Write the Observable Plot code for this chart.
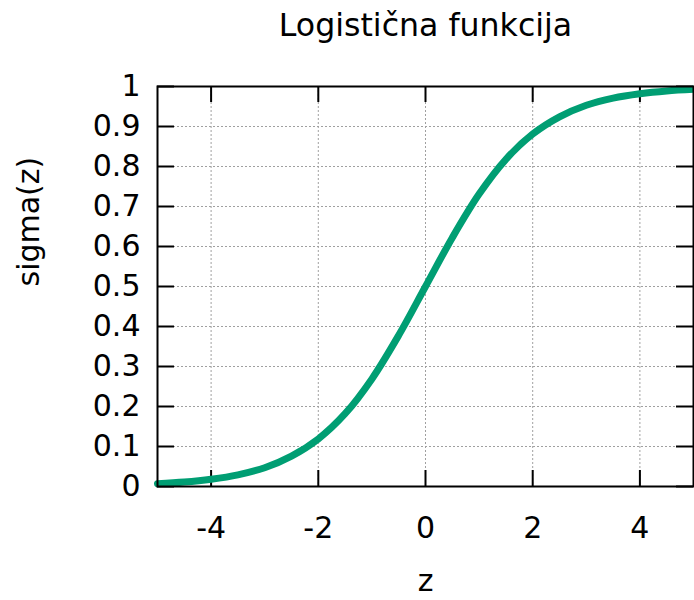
<!DOCTYPE html>
<html>
<head>
<meta charset="utf-8">
<script src="https://cdn.jsdelivr.net/npm/d3@7"></script>
<script src="https://cdn.jsdelivr.net/npm/@observablehq/plot@0.6"></script>
<style>
  html, body { margin: 0; padding: 0; background: #fff; }
  svg { display: block; }
</style>
</head>
<body>
<div id="chart"></div>
<script>
// Data
const zValues = [-5, -4.5, -4, -3.5, -3, -2.5, -2, -1.5, -1, -0.5, 0, 0.5, 1, 1.5, 2, 2.5, 3, 3.5, 4, 4.5, 5];
const sigmaValues = [0.007, 0.011, 0.018, 0.029, 0.047, 0.076, 0.119, 0.182, 0.269, 0.378, 0.5, 0.622, 0.731, 0.818, 0.881, 0.924, 0.953, 0.971, 0.982, 0.989, 0.993];
const xTicks = [-4, -2, 0, 2, 4];
const yTicks = [0, 0.1, 0.2, 0.3, 0.4, 0.5, 0.6, 0.7, 0.8, 0.9, 1];
const titleText = "Logistična funkcija";
const xLabel = "z";
const yLabel = "sigma(z)";

const data = zValues.map((z, i) => ({z, s: sigmaValues[i]}));
const font = "DejaVu Sans";
const gridColor = "#a0a0a0";

const plot = Plot.plot({
  width: 694,
  height: 600,
  marginLeft: 157,
  marginRight: 1,
  marginTop: 86,
  marginBottom: 114,
  style: {fontFamily: font, fontSize: "30px", color: "#000", background: "#fff", overflow: "visible"},
  x: {domain: [-5, 5]},
  y: {domain: [0, 1]},
  marks: [
    // grid
    Plot.ruleX(xTicks, {x: d => d, stroke: gridColor, strokeWidth: 1, strokeDasharray: "2,2"}),
    Plot.ruleY(yTicks.slice(1, -1), {y: d => d, stroke: gridColor, strokeWidth: 1, strokeDasharray: "2,2"}),
    // inward ticks (bottom/top)
    Plot.ruleX(xTicks, {x: d => d, insetTop: 384, stroke: "#000", strokeWidth: 2}),
    Plot.ruleX(xTicks, {x: d => d, insetBottom: 384, stroke: "#000", strokeWidth: 2}),
    // inward ticks (left/right)
    Plot.ruleY(yTicks, {y: d => d, x1: -5, x2: 5, insetRight: 519, stroke: "#000", strokeWidth: 2}),
    Plot.ruleY(yTicks, {y: d => d, x1: -5, x2: 5, insetLeft: 519, stroke: "#000", strokeWidth: 2}),
    // axes labels
    Plot.axisX(xTicks, {tickSize: 0, tickPadding: 30, fontSize: 30, tickFormat: d => String(d), label: null}),
    Plot.axisY(yTicks, {tickSize: 0, tickPadding: 17, fontSize: 30, tickFormat: d => String(d), label: null}),
    // curve
    Plot.line(data, {x: "z", y: "s", stroke: "#009e73", strokeWidth: 7, curve: "catmull-rom", strokeLinecap: "round", strokeLinejoin: "round"}),
    Plot.frame({stroke: "#000", strokeWidth: 2}),
    // titles
    Plot.text([titleText], {text: d => d, frameAnchor: "top", dy: -61, lineAnchor: "middle", fontSize: 31.6, fill: "#000"}),
    Plot.text([xLabel], {text: d => d, frameAnchor: "bottom", dy: 95, lineAnchor: "middle", fontSize: 30, fill: "#000"}),
    Plot.text([yLabel], {text: d => d, frameAnchor: "left", dx: -128, rotate: -90, lineAnchor: "middle", fontSize: 30, fill: "#000"})
  ]
});
document.getElementById("chart").appendChild(plot);
</script>
</body>
</html>
